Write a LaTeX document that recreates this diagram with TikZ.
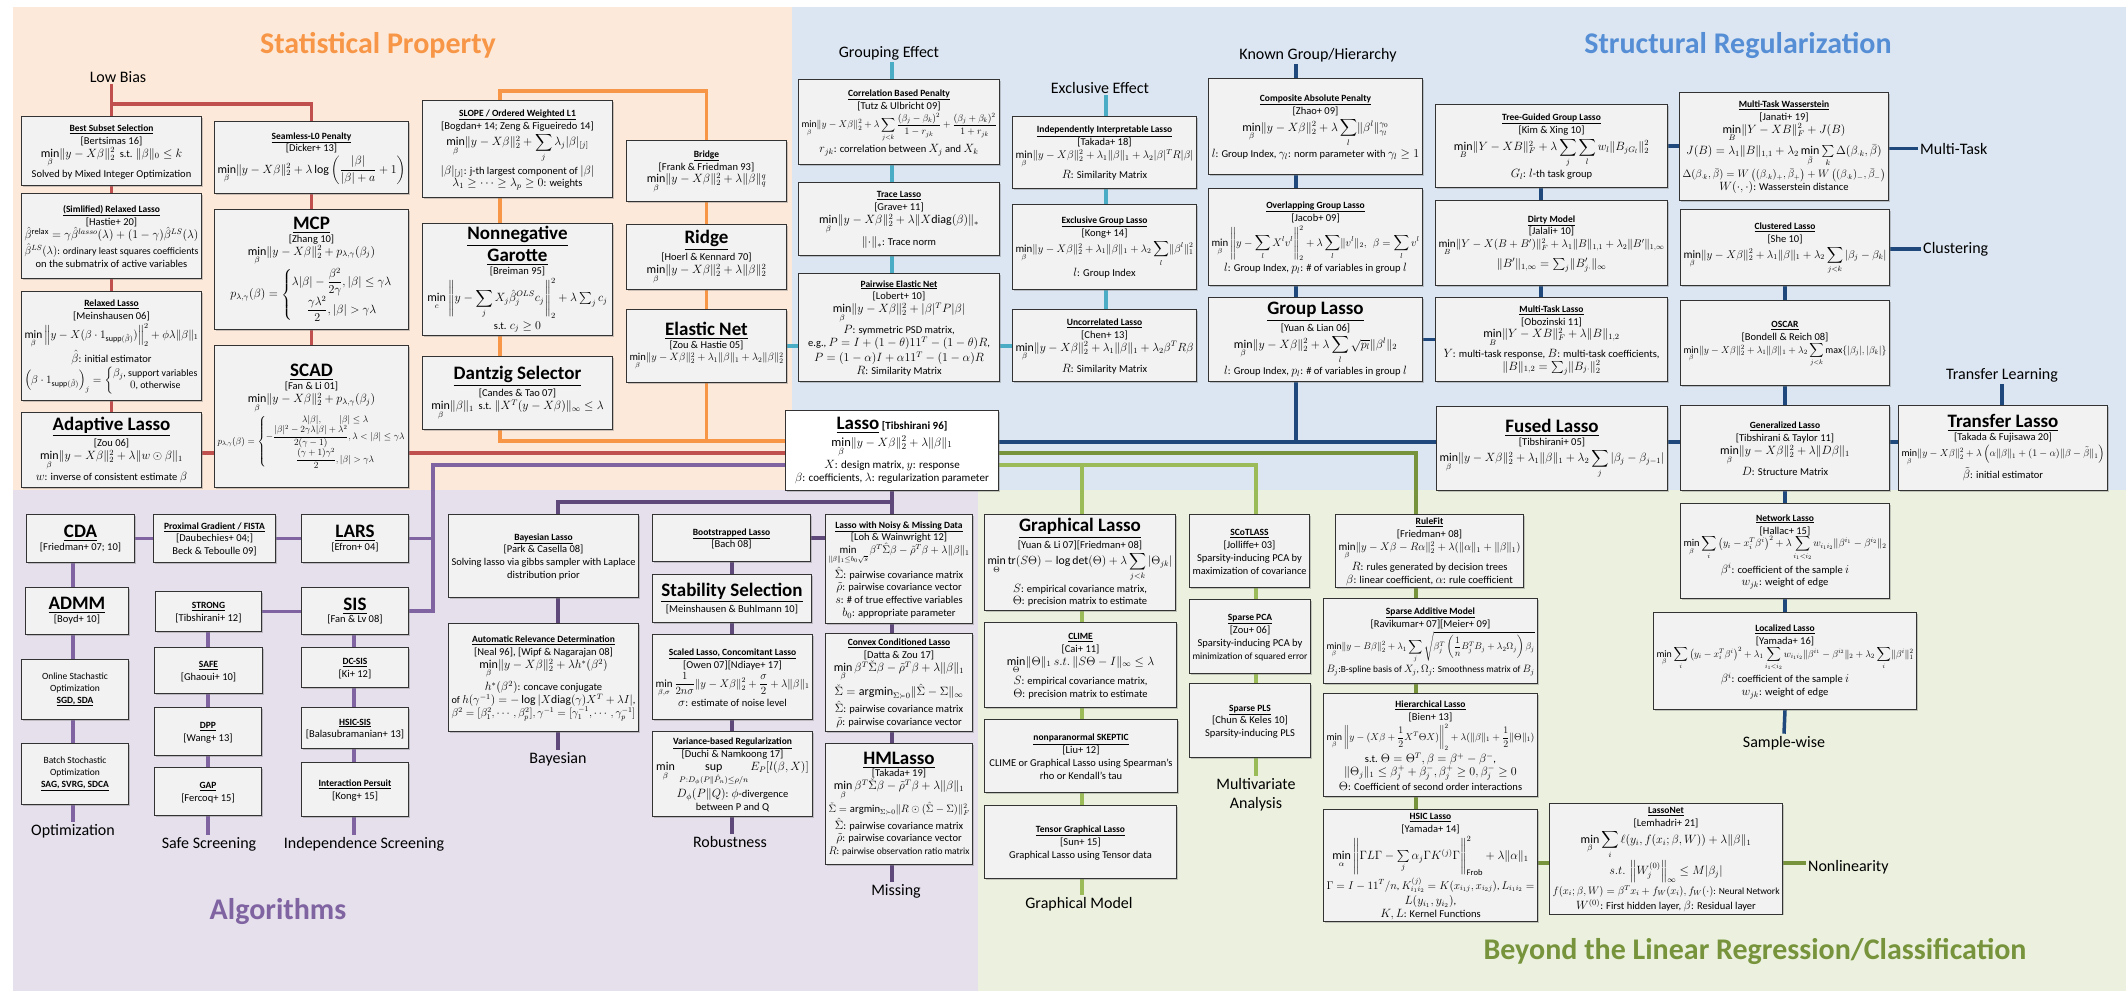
\documentclass[tikz,border=0pt]{standalone}
\usepackage{amsmath,amssymb}
\usepackage{graphicx}
\usepackage{fontspec}
\setmainfont{Carlito}
\usetikzlibrary{shadows}

\DeclareMathSizes{10.5}{12}{8.5}{6.5}
\DeclareMathSizes{11}{12.5}{9}{7}

\definecolor{bgor}{HTML}{FDE9D9}
\definecolor{bgbl}{HTML}{DCE6F2}
\definecolor{bgpu}{HTML}{E5E0EC}
\definecolor{bggr}{HTML}{EBF1DE}
\definecolor{ttlor}{HTML}{F79646}
\definecolor{ttlbl}{HTML}{558ED5}
\definecolor{ttlpu}{HTML}{8064A2}
\definecolor{ttlgr}{HTML}{77933C}
\definecolor{lred}{HTML}{C0504D}
\definecolor{lor}{HTML}{F79646}
\definecolor{llb}{HTML}{4BACC6}
\definecolor{ldb}{HTML}{1F497D}
\definecolor{lpu}{HTML}{8064A2}
\definecolor{ldpu}{HTML}{5F497A}
\definecolor{ldgr}{HTML}{77933C}
\definecolor{llgr}{HTML}{9BBB59}
\definecolor{boxg}{HTML}{F2F2F2}

\newcommand{\hd}[1]{{\fontsize{9.5}{12}\selectfont\underline{\textbf{#1}}\strut}}
\newcommand{\bighd}[1]{{\fontsize{19}{22}\selectfont\underline{\textbf{#1}}\rule[-3.5pt]{0pt}{3.5pt}}}
\newcommand{\rf}[1]{{[}#1{]}}
\newcommand{\nrm}[1]{\lVert#1\rVert}
\newcommand{\mn}{\min\limits}
\newcommand{\bxfont}{\fontsize{10.5}{12.8}\selectfont\lineskiplimit=0pt\lineskip=2.5pt\relax}
\newcommand{\lassofont}{\fontsize{11}{13.2}\selectfont\lineskiplimit=0pt\lineskip=2.5pt\relax}
% one line of a box, shrunk only when wider than the box
\newsavebox{\fitbox}
\newcommand{\ft}[1]{\sbox{\fitbox}{#1}\ifdim\wd\fitbox>\hsize\resizebox{\hsize}{!}{\usebox{\fitbox}}\else\usebox{\fitbox}\fi}

\pgfdeclarelayer{panel}
\pgfdeclarelayer{lines}
\pgfsetlayers{panel,lines,main}

\tikzset{
  bx/.style={draw=black!80, line width=1pt, fill=boxg, anchor=north west, align=flush center,
    inner sep=2pt, font=\bxfont,
    drop shadow={shadow xshift=1.2pt, shadow yshift=-1.2pt, opacity=0.4}},
  bxs/.style 2 args={bx, minimum width=#1pt, minimum height=#2pt,
    /utils/exec={\pgfmathsetlengthmacro\bxtw{#1pt-6pt}}, text width=\bxtw},
  ln/.style={line width=3.5pt, draw=#1},
  lab/.style={font=\fontsize{16}{19}\selectfont, inner sep=2pt, anchor=base},
  sec/.style={font=\fontsize{30}{34}\selectfont\bfseries, text=#1, anchor=base},
}

\begin{document}
\begin{tikzpicture}[x=1pt,y=-1pt]
\useasboundingbox (0,0) rectangle (2126,991);

% ---------- panels ----------
\begin{pgfonlayer}{panel}
\fill[bgor] (13,7) rectangle (792,490);
\fill[bgbl] (792,7) rectangle (2126,490);
\fill[bgpu] (13,490) rectangle (978,991);
\fill[bggr] (978,490) rectangle (2126,991);
\end{pgfonlayer}

% ---------- section titles ----------
\node[sec=ttlor] (tsp) at (378,53) {Statistical Property};
\node[sec=ttlbl] (tsr) at (1738,53) {Structural Regularization};
\node[sec=ttlpu] (tal) at (278,919) {Algorithms};
\node[sec=ttlgr] (tbl) at (1755,959) {Beyond the Linear Regression/Classification};

% ---------- branch labels ----------
\node[lab] (lowbias) at (118,82) {Low Bias};
\node[lab] (grouping) at (889,57) {Grouping Effect};
\node[lab] (exclusive) at (1100,93) {Exclusive Effect};
\node[lab] (known) at (1318,59) {Known Group/Hierarchy};
\node[lab, anchor=base west] (multitask) at (1918,154) {Multi-Task};
\node[lab, anchor=base west] (clustering) at (1921,253) {Clustering};
\node[lab] (translearn) at (2002,379) {Transfer Learning};
\node[lab] (samplewise) at (1784,747) {Sample-wise};
\node[lab, anchor=base west] (nonlin) at (1806,871) {Nonlinearity};
\node[lab] (optim) at (73,835) {Optimization};
\node[lab] (safescr) at (209,848) {Safe Screening};
\node[lab] (indscr) at (364,848) {Independence Screening};
\node[lab] (bayeslab) at (558,763) {Bayesian};
\node[lab] (robust) at (730,847) {Robustness};
\node[lab] (missing) at (896,895) {Missing};
\node[lab] (gmodel) at (1079,908) {Graphical Model};
\node[lab, anchor=center, align=center] (multivar) at (1256,795) {Multivariate\\Analysis};

% ---------- statistical property ----------
\node[bxs={180}{69}] (bestsub) at (21,116) {\hd{Best Subset Selection}\\\rf{Bertsimas 16}\\
  \ft{$\mn_\beta\nrm{y-X\beta}_2^2$\ \ s.t. $\nrm{\beta}_0\le k$}\\\ft{Solved by Mixed Integer Optimization}};
\node[bxs={180}{85}] (srelax) at (21,193) {\hd{(Simlified) Relaxed Lasso}\\\rf{Hastie+ 20}\\
  \ft{$\hat\beta^{\mathrm{relax}}=\gamma\hat\beta^{lasso}(\lambda)+(1-\gamma)\hat\beta^{LS}(\lambda)$}\\
  \ft{$\hat\beta^{LS}(\lambda)$: ordinary least squares coefficients}\\\ft{on the submatrix of active variables}};
\node[bxs={180}{109}] (relax) at (21,291) {\hd{Relaxed Lasso}\\\rf{Meinshausen 06}\\
  \ft{$\mn_\beta\left\|y-X(\beta\cdot 1_{\mathrm{supp}(\hat\beta)})\right\|_2^2+\phi\lambda\nrm{\beta}_1$}\\
  $\hat\beta$: initial estimator\\
  \ft{$\left(\beta\cdot 1_{\mathrm{supp}(\hat\beta)}\right)_j=\left\{\begin{array}{@{}c@{}}\beta_j\mbox{, support variables}\\ 0\mbox{, otherwise}\end{array}\right.$}};
\node[bxs={180}{75}] (adaptive) at (21,412) {\bighd{Adaptive Lasso}\\\rf{Zou 06}\\
  \ft{$\mn_\beta\nrm{y-X\beta}_2^2+\lambda\nrm{w\odot\beta}_1$}\\\ft{$w$: inverse of consistent estimate $\beta$}};
\node[bxs={194}{72}] (seamless) at (214,121) {\hd{Seamless-L0 Penalty}\\\rf{Dicker+ 13}\\
  \ft{$\mn_\beta\nrm{y-X\beta}_2^2+\lambda\log\left(\dfrac{|\beta|}{|\beta|+a}+1\right)$}};
\node[bxs={194}{120}] (mcp) at (214,209) {\bighd{MCP}\\\rf{Zhang 10}\\
  \ft{$\mn_\beta\nrm{y-X\beta}_2^2+p_{\lambda,\gamma}(\beta_j)$}\\
  \ft{$p_{\lambda,\gamma}(\beta)=\left\{\begin{array}{@{}c@{}}\lambda|\beta|-\dfrac{\beta^2}{2\gamma},|\beta|\le\gamma\lambda\\[3pt]\dfrac{\gamma\lambda^2}{2},|\beta|>\gamma\lambda\end{array}\right.$}};
\node[bxs={194}{142}] (scad) at (214,345) {\bighd{SCAD}\\\rf{Fan \& Li 01}\\
  \ft{$\mn_\beta\nrm{y-X\beta}_2^2+p_{\lambda,\gamma}(\beta_j)$}\\
  \ft{$p_{\lambda,\gamma}(\beta)=\left\{\begin{array}{@{}c@{}}\lambda|\beta|,\qquad|\beta|\le\lambda\\-\dfrac{|\beta|^2-2\gamma\lambda|\beta|+\lambda^2}{2(\gamma-1)},\lambda<|\beta|\le\gamma\lambda\\[2pt]\dfrac{(\gamma+1)\gamma^2}{2},|\beta|>\gamma\lambda\end{array}\right.$}};
\node[bxs={190}{97}] (slope) at (422,100) {\hd{SLOPE / Ordered Weighted L1}\\\ft{\rf{Bogdan+ 14; Zeng \& Figueiredo 14}}\\
  \ft{$\mn_\beta\nrm{y-X\beta}_2^2+\displaystyle\sum_j\lambda_j|\beta|_{[j]}$}\\
  \ft{$|\beta|_{[j]}$: j-th largest component of $|\beta|$}\\\ft{$\lambda_1\ge\cdots\ge\lambda_p\ge0$: weights}};
\node[bxs={190}{112}] (garotte) at (422,223) {\bighd{Nonnegative}\\\bighd{Garotte}\\\rf{Breiman 95}\\
  \ft{$\mn_c\left\|y-\displaystyle\sum_jX_j\hat\beta_j^{OLS}c_j\right\|_2^2+\lambda\sum_jc_j$}\\s.t. $c_j\ge0$};
\node[bxs={190}{73}] (dantzig) at (422,356) {\bighd{Dantzig Selector}\\\rf{Candes \& Tao 07}\\
  \ft{$\mn_\beta\nrm{\beta}_1$\ \ s.t. $\nrm{X^T(y-X\beta)}_\infty\le\lambda$}};
\node[bxs={160}{61}] (bridge) at (626,140) {\hd{Bridge}\\\rf{Frank \& Friedman 93}\\
  \ft{$\mn_\beta\nrm{y-X\beta}_2^2+\lambda\nrm{\beta}_q^q$}};
\node[bxs={160}{65}] (ridge) at (626,224) {\bighd{Ridge}\\\rf{Hoerl \& Kennard 70}\\
  \ft{$\mn_\beta\nrm{y-X\beta}_2^2+\lambda\nrm{\beta}_2^2$}};
\node[bxs={160}{73}] (elastic) at (626,309) {\bighd{Elastic Net}\\\rf{Zou \& Hastie 05}\\
  \ft{$\mn_\beta\nrm{y-X\beta}_2^2+\lambda_1\nrm{\beta}_1+\lambda_2\nrm{\beta}_2^2$}};

% ---------- structural regularization ----------
\node[bxs={201}{85}] (corr) at (798,79) {\hd{Correlation Based Penalty}\\\rf{Tutz \& Ulbricht 09}\\
  \ft{$\displaystyle\mn_\beta\nrm{y-X\beta}_2^2+\lambda\sum_{j<k}\frac{(\beta_j-\beta_k)^2}{1-r_{jk}}+\frac{(\beta_j+\beta_k)^2}{1+r_{jk}}$}\\
  \ft{$r_{jk}$: correlation between $X_j$ and $X_k$}};
\node[bxs={201}{73}] (trace) at (798,182) {\hd{Trace Lasso}\\\rf{Grave+ 11}\\
  \ft{$\mn_\beta\nrm{y-X\beta}_2^2+\lambda\nrm{X\mathrm{diag}(\beta)}_*$}\\$\nrm{\cdot}_*$: Trace norm};
\node[bxs={201}{108}] (pairwise) at (798,273) {\hd{Pairwise Elastic Net}\\\rf{Lobert+ 10}\\
  \ft{$\mn_\beta\nrm{y-X\beta}_2^2+|\beta|^TP|\beta|$}\\$P$: symmetric PSD matrix,\\
  \ft{e.g., $P=I+(1-\theta)11^T-(1-\theta)R$,}\\\ft{$P=(1-\alpha)I+\alpha11^T-(1-\alpha)R$}\\$R$: Similarity Matrix};
\node[bxs={184}{72}] (iil) at (1012,116) {\hd{Independently Interpretable Lasso}\\\rf{Takada+ 18}\\
  \ft{$\mn_\beta\nrm{y-X\beta}_2^2+\lambda_1\nrm{\beta}_1+\lambda_2|\beta|^TR|\beta|$}\\$R$: Similarity Matrix};
\node[bxs={184}{85}] (exgroup) at (1012,204) {\hd{Exclusive Group Lasso}\\\rf{Kong+ 14}\\
  \ft{$\mn_\beta\nrm{y-X\beta}_2^2+\lambda_1\nrm{\beta}_1+\lambda_2\displaystyle\sum_l\nrm{\beta^l}_1^2$}\\$l$: Group Index};
\node[bxs={184}{72}] (uncorr) at (1012,309) {\hd{Uncorrelated Lasso}\\\rf{Chen+ 13}\\
  \ft{$\mn_\beta\nrm{y-X\beta}_2^2+\lambda_1\nrm{\beta}_1+\lambda_2\beta^TR\beta$}\\$R$: Similarity Matrix};
\node[bxs={214}{96}] (cap) at (1208,78) {\hd{Composite Absolute Penalty}\\\rf{Zhao+ 09}\\
  \ft{$\mn_\beta\nrm{y-X\beta}_2^2+\lambda\displaystyle\sum_l\nrm{\beta^l}_{\gamma_l}^{\gamma_0}$}\\
  \ft{$l$: Group Index, $\gamma_l$: norm parameter with $\gamma_l\ge1$}};
\node[bxs={214}{97}] (overlap) at (1208,188) {\hd{Overlapping Group Lasso}\\\rf{Jacob+ 09}\\
  \ft{$\displaystyle\mn_\beta\left\|y-\sum_lX^lv^l\right\|_2^2+\lambda\sum_l\nrm{v^l}_2,\ \ \beta=\sum_lv^l$}\\
  \ft{$l$: Group Index, $p_l$: \# of variables in group $l$}};
\node[bxs={214}{84}] (group) at (1208,297) {\bighd{Group Lasso}\\\rf{Yuan \& Lian 06}\\
  \ft{$\mn_\beta\nrm{y-X\beta}_2^2+\lambda\displaystyle\sum_l\sqrt{p_l}\nrm{\beta^l}_2$}\\
  \ft{$l$: Group Index, $p_l$: \# of variables in group $l$}};
\node[bxs={232}{83}] (tree) at (1435,104) {\hd{Tree-Guided Group Lasso}\\\rf{Kim \& Xing 10}\\
  \ft{$\mn_B\nrm{Y-XB}_F^2+\lambda\displaystyle\sum_j\sum_lw_l\nrm{B_{jG_l}}_2^2$}\\$G_l$: $l$-th task group};
\node[bxs={232}{85}] (dirty) at (1435,200) {\hd{Dirty Model}\\\rf{Jalali+ 10}\\
  \ft{$\mn_B\nrm{Y-X(B+B')}_F^2+\lambda_1\nrm{B}_{1,1}+\lambda_2\nrm{B'}_{1,\infty}$}\\
  \ft{$\nrm{B'}_{1,\infty}=\sum_j\nrm{B_{j\cdot}'}_\infty$}};
\node[bxs={232}{84}] (mtl) at (1435,297) {\hd{Multi-Task Lasso}\\\rf{Obozinski 11}\\
  \ft{$\mn_B\nrm{Y-XB}_F^2+\lambda\nrm{B}_{1,2}$}\\
  \ft{$Y$: multi-task response, $B$: multi-task coefficients,}\\\ft{$\nrm{B}_{1,2}=\sum_j\nrm{B_{j\cdot}}_2^2$}};
\node[bxs={209}{108}] (mtw) at (1679,92) {\hd{Multi-Task Wasserstein}\\\rf{Janati+ 19}\\
  \ft{$\mn_B\nrm{Y-XB}_F^2+J(B)$}\\
  \ft{$J(B)=\lambda_1\nrm{B}_{1,1}+\lambda_2\mn_{\bar\beta}\sum\limits_k\Delta(\beta_{\cdot k},\bar\beta)$}\\
  \ft{$\Delta(\beta_{\cdot k},\bar\beta)=W\left((\beta_{\cdot k})_+,\bar\beta_+\right)+W\left((\beta_{\cdot k})_-,\bar\beta_-\right)$}\\
  \ft{$W(\cdot,\cdot)$: Wasserstein distance}};
\node[bxs={209}{76}] (clustered) at (1680,209) {\hd{Clustered Lasso}\\\rf{She 10}\\
  \ft{$\mn_\beta\nrm{y-X\beta}_2^2+\lambda_1\nrm{\beta}_1+\lambda_2\displaystyle\sum_{j<k}|\beta_j-\beta_k|$}};
\node[bxs={209}{85}] (oscar) at (1680,300) {\hd{OSCAR}\\\rf{Bondell \& Reich 08}\\
  \ft{$\mn_\beta\nrm{y-X\beta}_2^2+\lambda_1\nrm{\beta}_1+\lambda_2\displaystyle\sum_{j<k}\max\{|\beta_j|,|\beta_k|\}$}};
\node[bxs={209}{85}] (generalized) at (1680,405) {\hd{Generalized Lasso}\\\rf{Tibshirani \& Taylor 11}\\
  \ft{$\mn_\beta\nrm{y-X\beta}_2^2+\lambda\nrm{D\beta}_1$}\\$D$: Structure Matrix};
\node[bxs={231}{84}] (fused) at (1436,406) {\bighd{Fused Lasso}\\\rf{Tibshirani+ 05}\\
  \ft{$\mn_\beta\nrm{y-X\beta}_2^2+\lambda_1\nrm{\beta}_1+\lambda_2\displaystyle\sum_j|\beta_j-\beta_{j-1}|$}};
\node[bxs={209}{85}] (transfer) at (1898,405) {\bighd{Transfer Lasso}\\\rf{Takada \& Fujisawa 20}\\
  \ft{$\mn_\beta\nrm{y-X\beta}_2^2+\lambda\left(\alpha\nrm{\beta}_1+(1-\alpha)\nrm{\beta-\tilde\beta}_1\right)$}\\
  $\tilde\beta$: initial estimator};

% ---------- the lasso ----------
\node[bxs={213}{80}, fill=white, font=\lassofont] (lasso) at (785,410)
  {\ft{\bighd{Lasso}\ \textbf{\rf{Tibshirani 96}}}\\
  \ft{$\mn_\beta\nrm{y-X\beta}_2^2+\lambda\nrm{\beta}_1$}\\\ft{$X$: design matrix, $y$: response}\\
  \ft{$\beta$: coefficients, $\lambda$: regularization parameter}};

% ---------- beyond linear ----------
\node[bxs={209}{95}] (network) at (1680,503) {\hd{Network Lasso}\\\rf{Hallac+ 15}\\
  \ft{$\displaystyle\mn_\beta\sum_i\left(y_i-x_i^T\beta^i\right)^2+\lambda\sum_{i_1<i_2}w_{i_1i_2}\nrm{\beta^{i_1}-\beta^{i_2}}_2$}\\
  \ft{$\beta^i$: coefficient of the sample $i$}\\$w_{jk}$: weight of edge};
\node[bxs={263}{97}] (localized) at (1653,612) {\hd{Localized Lasso}\\\rf{Yamada+ 16}\\
  \ft{$\displaystyle\mn_\beta\sum_i\left(y_i-x_i^T\beta^i\right)^2+\lambda_1\sum_{i_1<i_2}w_{i_1i_2}\nrm{\beta^{i_1}-\beta^{i_2}}_2+\lambda_2\sum_i\nrm{\beta^i}_1^2$}\\
  \ft{$\beta^i$: coefficient of the sample $i$}\\$w_{jk}$: weight of edge};
\node[bxs={233}{109}] (lassonet) at (1549,803) {\hd{LassoNet}\\\rf{Lemhadri+ 21}\\
  \ft{$\displaystyle\mn_\beta\sum_i\ell(y_i,f(x_i;\beta,W))+\lambda\nrm{\beta}_1$}\\
  \ft{$s.t.\ \left\|W_j^{(0)}\right\|_\infty\le M|\beta_j|$}\\
  \ft{$f(x_i;\beta,W)=\beta^Tx_i+f_W(x_i),f_W(\cdot)$: Neural Network}\\
  \ft{$W^{(0)}$: First hidden layer, $\beta$: Residual layer}};
\node[bxs={191}{96}] (graphical) at (984,514) {\bighd{Graphical Lasso}\\\ft{\rf{Yuan \& Li 07}\rf{Friedman+ 08}}\\
  \ft{$\displaystyle\mn_\Theta\mathrm{tr}(S\Theta)-\log\det(\Theta)+\lambda\sum_{j<k}|\Theta_{jk}|$}\\
  \ft{$S$: empirical covariance matrix,}\\\ft{$\Theta$: precision matrix to estimate}};
\node[bxs={192}{85}] (clime) at (984,622) {\hd{CLIME}\\\rf{Cai+ 11}\\
  \ft{$\mn_\Theta\nrm{\Theta}_1\ s.t.\ \nrm{S\Theta-I}_\infty\le\lambda$}\\
  \ft{$S$: empirical covariance matrix,}\\\ft{$\Theta$: precision matrix to estimate}};
\node[bxs={193}{73}] (skeptic) at (984,719) {\hd{nonparanormal SKEPTIC}\\\rf{Liu+ 12}\\
  \ft{CLIME or Graphical Lasso using Spearman's}\\rho or Kendall's tau};
\node[bxs={192}{73}] (tensor) at (984,805) {\hd{Tensor Graphical Lasso}\\\rf{Sun+ 15}\\
  \ft{Graphical Lasso using Tensor data}};
\node[bxs={120}{73}] (scotlass) at (1189,514) {\hd{SCoTLASS}\\\rf{Jolliffe+ 03}\\
  \ft{Sparsity-inducing PCA by}\\\ft{maximization of covariance}};
\node[bxs={121}{74}] (spca) at (1189,599) {\hd{Sparse PCA}\\\rf{Zou+ 06}\\
  \ft{Sparsity-inducing PCA by}\\\ft{minimization of squared error}};
\node[bxs={121}{74}] (spls) at (1189,683) {\hd{Sparse PLS}\\\rf{Chun \& Keles 10}\\
  \ft{Sparsity-inducing PLS}};
\node[bxs={188}{73}] (rulefit) at (1335,514) {\hd{RuleFit}\\\rf{Friedman+ 08}\\
  \ft{$\mn_\beta\nrm{y-X\beta-R\alpha}_2^2+\lambda(\nrm{\alpha}_1+\nrm{\beta}_1)$}\\
  \ft{$R$: rules generated by decision trees}\\\ft{$\beta$: linear coefficient, $\alpha$: rule coefficient}};
\node[bxs={214}{85}] (sam) at (1323,598) {\hd{Sparse Additive Model}\\\rf{Ravikumar+ 07}\rf{Meier+ 09}\\
  \ft{$\displaystyle\mn_\beta\nrm{y-B\beta}_2^2+\lambda_1\sum_j\sqrt{\beta_j^T\left(\frac1nB_j^TB_j+\lambda_2\Omega_j\right)\beta_j}$}\\
  \ft{$B_j$:B-spline basis of $X_j$, $\Omega_j$: Smoothness matrix of $B_j$}};
\node[bxs={214}{103}] (hier) at (1323,693) {\hd{Hierarchical Lasso}\\\rf{Bien+ 13}\\
  \ft{$\displaystyle\mn_\beta\left\|y-(X\beta+\frac12X^T\Theta X)\right\|_2^2+\lambda(\nrm{\beta}_1+\frac12\nrm{\Theta}_1)$}\\
  \ft{s.t. $\Theta=\Theta^T,\beta=\beta^+-\beta^-$,}\\
  \ft{$\nrm{\Theta_j}_1\le\beta_j^++\beta_j^-,\beta_j^+\ge0,\beta_j^-\ge0$}\\
  \ft{$\Theta$: Coefficient of second order interactions}};
\node[bxs={214}{102}] (hsic) at (1323,809) {\hd{HSIC Lasso}\\\rf{Yamada+ 14}\\
  \ft{$\mn_\alpha\left\|\Gamma L\Gamma-\sum\limits_j\alpha_j\Gamma K^{(j)}\Gamma\right\|_{\mathrm{Frob}}^2+\lambda\nrm{\alpha}_1$}\\
  \ft{$\Gamma=I-11^T/n$, $K_{i_1i_2}^{(j)}=K(x_{i_1j},x_{i_2j})$, $L_{i_1i_2}=$}\\
  \ft{$L(y_{i_1},y_{i_2})$,}\\\ft{$K,L$: Kernel Functions}};

% ---------- algorithms ----------
\node[bxs={108}{48}] (cda) at (26,514) {\bighd{CDA}\\\ft{\rf{Friedman+ 07; 10}}};
\node[bxs={122}{48}] (prox) at (153,514) {\ft{\hd{Proximal Gradient / FISTA}}\\\rf{Daubechies+ 04;}\\\ft{Beck \& Teboulle 09]}};
\node[bxs={107}{48}] (lars) at (301,514) {\bighd{LARS}\\\rf{Efron+ 04}};
\node[bxs={103}{47}] (admm) at (25,587) {\bighd{ADMM}\\\rf{Boyd+ 10}};
\node[bxs={106}{40}] (strong) at (155,591) {\hd{STRONG}\\\rf{Tibshirani+ 12}};
\node[bxs={107}{47}] (sis) at (301,587) {\bighd{SIS}\\\rf{Fan \& Lv 08}};
\node[bxs={107}{60}, font=\fontsize{9.5}{12}\selectfont] (online) at (21,659) {Online Stachastic\\Optimization\\\hd{SGD, SDA}};
\node[bxs={107}{61}, font=\fontsize{9.5}{12}\selectfont] (batch) at (21,743) {Batch Stochastic\\Optimization\\\hd{SAG, SVRG, SDCA}};
\node[bxs={108}{46}] (safe) at (154,647) {\hd{SAFE}\\\rf{Ghaoui+ 10}};
\node[bxs={107}{48}] (dpp) at (154,707) {\hd{DPP}\\\rf{Wang+ 13}};
\node[bxs={107}{48}] (gap) at (154,767) {\hd{GAP}\\\rf{Fercoq+ 15}};
\node[bxs={107}{40}] (dcsis) at (301,647) {\hd{DC-SIS}\\\rf{Ki+ 12}};
\node[bxs={107}{41}] (hsicsis) at (301,707) {\hd{HSIC-SIS}\\\ft{\rf{Balasubramanian+ 13}}};
\node[bxs={107}{54}] (ip) at (301,762) {\hd{Interaction Persuit}\\\rf{Kong+ 15}};
\node[bxs={190}{83}] (bayes) at (448,514) {\hd{Bayesian Lasso}\\\rf{Park \& Casella 08}\\
  \ft{Solving lasso via gibbs sampler with Laplace}\\distribution prior};
\node[bxs={190}{108}] (ard) at (448,623) {\hd{Automatic Relevance Determination}\\\ft{\rf{Neal 96], [Wipf \& Nagarajan 08}}\\
  \ft{$\mn_\beta\nrm{y-X\beta}_2^2+\lambda h^*(\beta^2)$}\\\ft{$h^*(\beta^2)$: concave conjugate}\\
  \ft{of $h(\gamma^{-1})=-\log|X\mathrm{diag}(\gamma)X^T+\lambda I|$,}\\
  \ft{$\beta^2=[\beta_1^2,\cdots,\beta_p^2],\gamma^{-1}=[\gamma_1^{-1},\cdots,\gamma_p^{-1}]$}};
\node[bxs={158}{47}] (boot) at (652,514) {\hd{Bootstrapped Lasso}\\\rf{Bach 08}};
\node[bxs={159}{48}] (stab) at (652,574) {\ft{\bighd{Stability Selection}}\\\ft{\rf{Meinshausen \& Buhlmann 10}}};
\node[bxs={160}{85}] (scaled) at (652,634) {\ft{\hd{Scaled Lasso, Concomitant Lasso}}\\\rf{Owen 07}\rf{Ndiaye+ 17}\\
  \ft{$\displaystyle\mn_{\beta,\sigma}\frac{1}{2n\sigma}\nrm{y-X\beta}_2^2+\frac{\sigma}{2}+\lambda\nrm{\beta}_1$}\\
  \ft{$\sigma$: estimate of noise level}};
\node[bxs={160}{85}] (variance) at (652,731) {\ft{\hd{Variance-based Regularization}}\\\rf{Duchi \& Namkoong 17}\\
  \ft{$\displaystyle\mn_\beta\ \sup_{P:D_\phi(P\|\hat P_n)\le\rho/n}E_P[l(\beta,X)]$}\\
  \ft{$D_\phi(P\|Q)$: $\phi$-divergence}\\between P and Q};
\node[bxs={147}{109}] (noisy) at (825,514) {\ft{\hd{Lasso with Noisy \& Missing Data}}\\\ft{\rf{Loh \& Wainwright 12}}\\
  \ft{$\mn_{\nrm{\beta}_1\le b_0\sqrt{s}}\beta^T\hat\Sigma\beta-\tilde\rho^T\beta+\lambda\nrm{\beta}_1$}\\
  \ft{$\hat\Sigma$: pairwise covariance matrix}\\\ft{$\tilde\rho$: pairwise covariance vector}\\
  \ft{$s$: \# of true effective variables}\\\ft{$b_0$: appropriate parameter}};
\node[bxs={147}{98}] (convex) at (825,633) {\ft{\hd{Convex Conditioned Lasso}}\\\rf{Datta \& Zou 17}\\
  \ft{$\mn_\beta\beta^T\check\Sigma\beta-\tilde\rho^T\beta+\lambda\nrm{\beta}_1$}\\
  \ft{$\check\Sigma=\mathrm{argmin}_{\Sigma\succ0}\nrm{\hat\Sigma-\Sigma}_\infty$}\\
  \ft{$\hat\Sigma$: pairwise covariance matrix}\\\ft{$\tilde\rho$: pairwise covariance vector}};
\node[bxs={147}{121}] (hml) at (825,743) {\bighd{HMLasso}\\\rf{Takada+ 19}\\
  \ft{$\mn_\beta\beta^T\check\Sigma\beta-\tilde\rho^T\beta+\lambda\nrm{\beta}_1$}\\
  \ft{$\check\Sigma=\mathrm{argmin}_{\Sigma\succ0}\nrm{R\odot(\hat\Sigma-\Sigma)}_F^2$}\\
  \ft{$\hat\Sigma$: pairwise covariance matrix}\\\ft{$\tilde\rho$: pairwise covariance vector}\\
  \ft{$R$: pairwise observation ratio matrix}};

% ---------- connectors ----------
\begin{pgfonlayer}{lines}
% low bias (red)
\coordinate (rX) at (111,104);
\coordinate (rY) at (0,453);
\draw[ln=lred] (lowbias.south -| bestsub.north) -- (bestsub.north);
\draw[ln=lred] (rX) -| (seamless.north);
\draw[ln=lred] (bestsub.south) -- (srelax.north);
\draw[ln=lred] (srelax.south) -- (relax.north);
\draw[ln=lred] (relax.south) -- (adaptive.north);
\draw[ln=lred] (seamless.south) -- (mcp.north);
\draw[ln=lred] (mcp.south) -- (scad.north);
\draw[ln=lred] (adaptive.east |- rY) -- (lasso.west |- rY);
% orange
\coordinate (oX) at (500,91);
\coordinate (oY) at (0,441);
\draw[ln=lor] (slope.north -| oX) -- (oX) -| (bridge.north);
\draw[ln=lor] (slope.south -| oX) -- (garotte.north -| oX);
\draw[ln=lor] (garotte.south -| oX) -- (dantzig.north -| oX);
\draw[ln=lor] (dantzig.south -| oX) |- (lasso.west |- oY);
\draw[ln=lor] (bridge.south) -- (ridge.north);
\draw[ln=lor] (ridge.south) -- (elastic.north);
\draw[ln=lor] (elastic.south) -- (elastic.south |- oY);
% grouping / exclusive (light blue)
\coordinate (gX) at (892,0);
\coordinate (eX) at (1106,0);
\draw[ln=llb] (grouping.south -| gX) -- (corr.north -| gX);
\draw[ln=llb] (corr.south -| gX) -- (trace.north -| gX);
\draw[ln=llb] (trace.south -| gX) -- (pairwise.north -| gX);
\draw[ln=llb] (elastic.east) -- (uncorr.west |- elastic.east);
\draw[ln=llb] (exclusive.south -| eX) -- (iil.north -| eX);
\draw[ln=llb] (iil.south -| eX) -- (exgroup.north -| eX);
\draw[ln=llb] (exgroup.south -| eX) -- (uncorr.north -| eX);
% known group / hierarchy (dark blue)
\coordinate (kX) at (1296,0);
\coordinate (bY) at (0,442);
\coordinate (tX) at (1541,0);
\draw[ln=ldb] (known.south -| kX) -- (cap.north -| kX);
\draw[ln=ldb] (cap.south -| kX) -- (overlap.north -| kX);
\draw[ln=ldb] (overlap.south -| kX) -- (group.north -| kX);
\draw[ln=ldb] (group.south -| kX) -- (kX |- bY);
\draw[ln=ldb] (lasso.east |- bY) -- (fused.west |- bY);
\draw[ln=ldb] (fused.east |- bY) -- (generalized.west |- bY);
\draw[ln=ldb] (generalized.east |- bY) -- (transfer.west |- bY);
\draw[ln=ldb] (group.east) -- (mtl.west);
\draw[ln=ldb] (tree.south -| tX) -- (dirty.north -| tX);
\draw[ln=ldb] (dirty.south -| tX) -- (mtl.north -| tX);
\draw[ln=ldb] (tree.east) -- (mtw.west |- tree.east);
\draw[ln=ldb] (mtw.east |- multitask.west) -- (multitask.west);
\draw[ln=ldb] (clustered.east |- clustering.west) -- (clustering.west);
\draw[ln=ldb] (clustered.south) -- (oscar.north);
\draw[ln=ldb] (oscar.south) -- (generalized.north);
\draw[ln=ldb] (generalized.south) -- (network.north);
\draw[ln=ldb] (network.south) -- (localized.north);
\draw[ln=ldb] (localized.south) -- (samplewise.north);
\draw[ln=ldb] (translearn.south) -- (transfer.north -| translearn.south);
% algorithms (purple)
\coordinate (pX) at (433,465);
\coordinate (cX) at (73,0);
\coordinate (sX) at (208,0);
\coordinate (iX) at (354,0);
\draw[ln=lpu] (lasso.west |- pX) -- (pX) |- (sis.east);
\draw[ln=lpu] (lars.east) -- (lars.east -| pX);
\draw[ln=lpu] (cda.east) -- (prox.west);
\draw[ln=lpu] (prox.east) -- (lars.west);
\draw[ln=lpu] (strong.east) -- (sis.west |- strong.east);
\draw[ln=lpu] (cda.south -| cX) -- (admm.north -| cX);
\draw[ln=lpu] (admm.south -| cX) -- (online.north -| cX);
\draw[ln=lpu] (online.south -| cX) -- (batch.north -| cX);
\draw[ln=lpu] (batch.south -| cX) -- (optim.north -| cX);
\draw[ln=lpu] (strong.south -| sX) -- (safe.north -| sX);
\draw[ln=lpu] (safe.south -| sX) -- (dpp.north -| sX);
\draw[ln=lpu] (dpp.south -| sX) -- (gap.north -| sX);
\draw[ln=lpu] (gap.south -| sX) -- (safescr.north -| sX);
\draw[ln=lpu] (sis.south -| iX) -- (dcsis.north -| iX);
\draw[ln=lpu] (dcsis.south -| iX) -- (hsicsis.north -| iX);
\draw[ln=lpu] (hsicsis.south -| iX) -- (ip.north -| iX);
\draw[ln=lpu] (ip.south -| iX) -- (indscr.north -| iX);
% bayesian / robustness / missing (dark purple)
\coordinate (dY) at (892,502);
\coordinate (bX) at (558,0);
\coordinate (rbX) at (732,0);
\draw[ln=ldpu] (lasso.south -| dY) -- (noisy.north -| dY);
\draw[ln=ldpu] (dY) -| (bayes.north -| bX);
\draw[ln=ldpu] (bayes.south -| bX) -- (ard.north -| bX);
\draw[ln=ldpu] (ard.south -| bX) -- (bayeslab.north -| bX);
\draw[ln=ldpu] (boot.east) -- (noisy.west |- boot.east);
\draw[ln=ldpu] (boot.south -| rbX) -- (stab.north -| rbX);
\draw[ln=ldpu] (stab.south -| rbX) -- (scaled.north -| rbX);
\draw[ln=ldpu] (scaled.south -| rbX) -- (variance.north -| rbX);
\draw[ln=ldpu] (variance.south -| rbX) -- (robust.north -| rbX);
\draw[ln=ldpu] (noisy.south -| dY) -- (convex.north -| dY);
\draw[ln=ldpu] (convex.south -| dY) -- (hml.north -| dY);
\draw[ln=ldpu] (hml.south -| dY) -- (missing.north -| dY);
% beyond linear (green)
\coordinate (gY) at (1416,453);
\coordinate (nY) at (0,863);
\draw[ln=ldgr] (lasso.east |- gY) -- (gY) -- (rulefit.north -| gY);
\draw[ln=ldgr] (rulefit.south -| gY) -- (sam.north -| gY);
\draw[ln=ldgr] (sam.south -| gY) -- (hier.north -| gY);
\draw[ln=ldgr] (hier.south -| gY) -- (hsic.north -| gY);
\draw[ln=ldgr] (hsic.east |- nY) -- (lassonet.west |- nY);
\draw[ln=ldgr] (lassonet.east |- nY) -- (nonlin.west |- nY);
\coordinate (lgY) at (1256,465);
\coordinate (gmX) at (1082,0);
\draw[ln=llgr] (lasso.east |- lgY) -- (lgY) -- (scotlass.north -| lgY);
\draw[ln=llgr] (gmX |- lgY) -- (graphical.north -| gmX);
\draw[ln=llgr] (graphical.south -| gmX) -- (clime.north -| gmX);
\draw[ln=llgr] (clime.south -| gmX) -- (skeptic.north -| gmX);
\draw[ln=llgr] (skeptic.south -| gmX) -- (tensor.north -| gmX);
\draw[ln=llgr] (tensor.south -| gmX) -- (gmodel.north -| gmX);
\draw[ln=llgr] (scotlass.south -| lgY) -- (spca.north -| lgY);
\draw[ln=llgr] (spca.south -| lgY) -- (spls.north -| lgY);
\draw[ln=llgr] (spls.south -| lgY) -- (multivar.north -| lgY);
\end{pgfonlayer}
\end{tikzpicture}
\end{document}
